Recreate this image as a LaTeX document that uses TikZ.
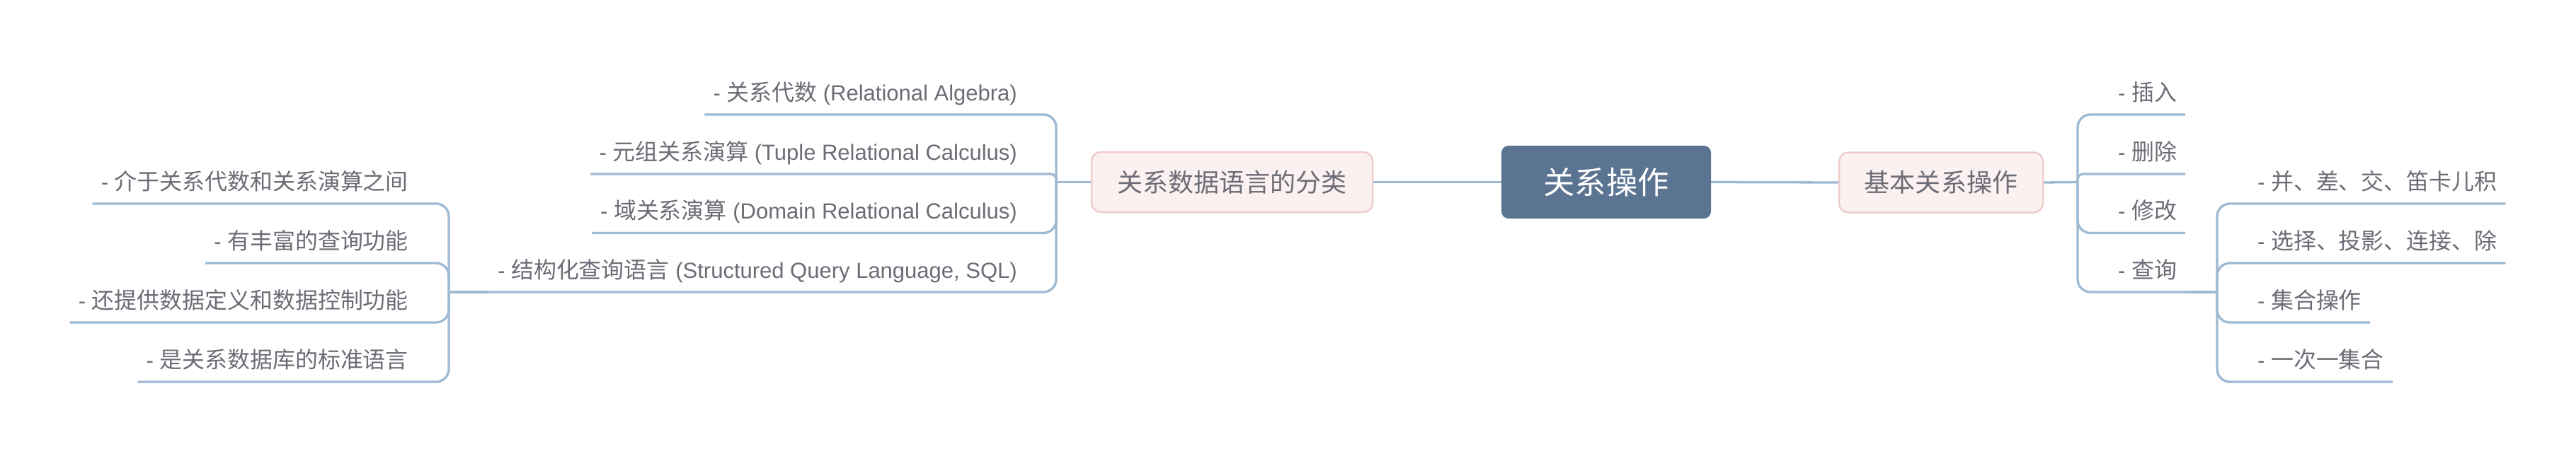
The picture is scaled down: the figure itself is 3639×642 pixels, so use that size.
\documentclass[tikz,border=0pt]{standalone}
\usepackage{fontspec}
\setmainfont{Liberation Sans}
\newfontfamily\cjk{Noto Sans CJK SC}[Scale=1.03]
\usetikzlibrary{calc}
\definecolor{linec}{RGB}{158,185,210}
\definecolor{rootfill}{RGB}{91,116,145}
\definecolor{subfill}{RGB}{252,241,241}
\definecolor{subdraw}{RGB}{239,204,204}
\definecolor{txt}{RGB}{108,108,118}
\begin{document}
\begin{tikzpicture}[x=1pt,y=-1pt,
  conn/.style={draw=linec, line width=3.3pt, line join=round},
  leaf/.style={inner xsep=12pt, inner ysep=0pt, text=txt, font=\fontsize{31}{36}\selectfont},
  rootbox/.style={fill=rootfill, rounded corners=10pt, minimum width=296pt, minimum height=103pt,
    inner sep=0pt, text=white, font=\fontsize{43}{50}\selectfont, text height=33.4pt, text depth=0pt},
  subbox/.style={fill=subfill, draw=subdraw, line width=2.5pt, rounded corners=13pt, minimum height=85pt,
    inner sep=0pt, text=txt, font=\fontsize{35}{42}\selectfont, text height=27.4pt, text depth=0pt}]
\fill[white] (0,0) rectangle (3639,642);
\useasboundingbox (0,0) rectangle (3639,642);

% main nodes
\node[rootbox] (root) at (2269,257.5) {\cjk 关系操作};
\node[subbox, minimum width=397pt] (lc) at (1740.5,257.5) {\cjk 关系数据语言的分类};
\node[subbox, minimum width=288pt] (rc) at (2742,258) {\cjk 基本关系操作};

% left group
\node[leaf, anchor=base east] (l1) at (1449,142) {- {\cjk 关系代数} (Relational Algebra)};
\node[leaf, anchor=base east] (l2) at (1449,226) {- {\cjk 元组关系演算} (Tuple Relational Calculus)};
\node[leaf, anchor=base east] (l3) at (1449,309.5) {- {\cjk 域关系演算} (Domain Relational Calculus)};
\node[leaf, anchor=base east] (l4) at (1449,393) {- {\cjk 结构化查询语言} (Structured Query Language, SQL)};

% SQL children
\node[leaf, anchor=base east] (s1) at (589,268) {- {\cjk 介于关系代数和关系演算之间}};
\node[leaf, anchor=base east] (s2) at (589,352) {- {\cjk 有丰富的查询功能}};
\node[leaf, anchor=base east] (s3) at (589,436) {- {\cjk 还提供数据定义和数据控制功能}};
\node[leaf, anchor=base east] (s4) at (589,520) {- {\cjk 是关系数据库的标准语言}};

% right group
\node[leaf, anchor=base west] (r1) at (2980,142) {- {\cjk 插入}};
\node[leaf, anchor=base west] (r2) at (2980,226) {- {\cjk 删除}};
\node[leaf, anchor=base west] (r3) at (2980,309.5) {- {\cjk 修改}};
\node[leaf, anchor=base west] (r4) at (2980,393) {- {\cjk 查询}};

% query children
\node[leaf, anchor=base west] (q1) at (3177,268) {- {\cjk 并、差、交、笛卡儿积}};
\node[leaf, anchor=base west] (q2) at (3177,352) {- {\cjk 选择、投影、连接、除}};
\node[leaf, anchor=base west] (q3) at (3177,436) {- {\cjk 集合操作}};
\node[leaf, anchor=base west] (q4) at (3177,520) {- {\cjk 一次一集合}};

% junctions
\coordinate (j1) at (1492,257.5);
\coordinate (j2) at (2935,257.5);
\coordinate (j3) at (634,413);
\coordinate (j4) at (3132,413);

% connectors root
\draw[conn] (root.west) -- (lc.east);
\draw[conn] (root.east) -- (rc.west);

% left group connectors
\draw[conn] (lc.west) -- (j1);
\draw[conn, rounded corners=18pt] (j1) |- ($(l1.base west)+(0,20)$);
\draw[conn, rounded corners=8pt] (j1) |- ($(l2.base west)+(0,20)$);
\draw[conn, rounded corners=18pt] (j1) |- ($(l3.base west)+(0,20)$);
\draw[conn, rounded corners=18pt] (j1) |- ($(l4.base west)+(0,20)$);

% SQL children connectors
\draw[conn] ($(l4.base west)+(0,20)$) -- (j3);
\draw[conn, rounded corners=18pt] (j3) |- ($(s1.base west)+(0,20)$);
\draw[conn, rounded corners=18pt] (j3) |- ($(s2.base west)+(0,20)$);
\draw[conn, rounded corners=18pt] (j3) |- ($(s3.base west)+(0,20)$);
\draw[conn, rounded corners=18pt] (j3) |- ($(s4.base west)+(0,20)$);

% right group connectors
\draw[conn] (rc.east) -- (j2);
\draw[conn, rounded corners=18pt] (j2) |- ($(r1.base east)+(0,20)$);
\draw[conn, rounded corners=8pt] (j2) |- ($(r2.base east)+(0,20)$);
\draw[conn, rounded corners=18pt] (j2) |- ($(r3.base east)+(0,20)$);
\draw[conn, rounded corners=18pt] (j2) |- ($(r4.base east)+(0,20)$);

% query children connectors
\draw[conn] ($(r4.base east)+(0,20)$) -- (j4);
\draw[conn, rounded corners=18pt] (j4) |- ($(q1.base east)+(0,20)$);
\draw[conn, rounded corners=18pt] (j4) |- ($(q2.base east)+(0,20)$);
\draw[conn, rounded corners=18pt] (j4) |- ($(q3.base east)+(0,20)$);
\draw[conn, rounded corners=18pt] (j4) |- ($(q4.base east)+(0,20)$);
\end{tikzpicture}
\end{document}
